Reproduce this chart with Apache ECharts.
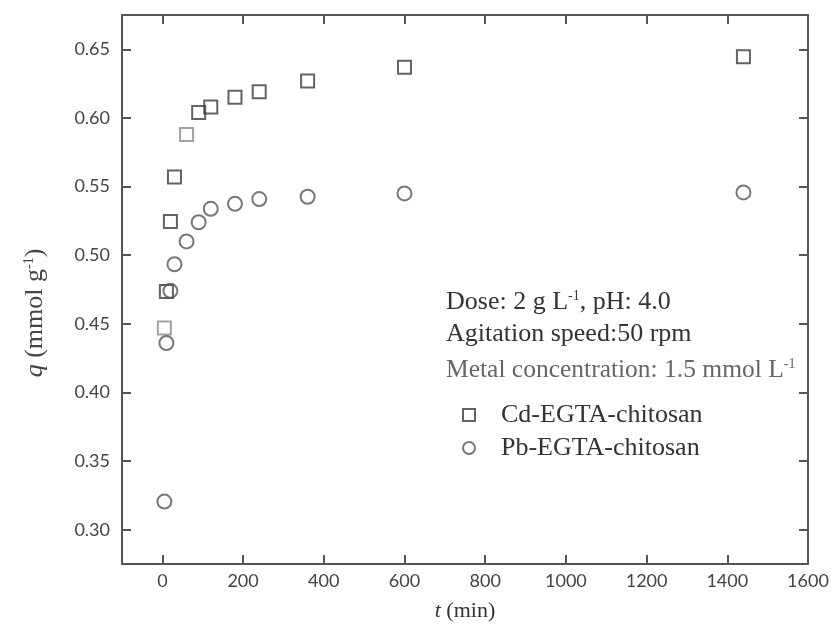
<!DOCTYPE html>
<html>
<head>
<meta charset="utf-8">
<script src="https://cdn.jsdelivr.net/npm/echarts@6/dist/echarts.min.js"></script>
<style>html,body{margin:0;padding:0;background:#fff}#c{width:833px;height:630px}</style>
</head>
<body>
<div id="c"></div>
<script>
const timesCd = [5, 10, 20, 30, 60, 90, 120, 180, 240, 360, 600, 1440];
const cdValues = [0.447, 0.4735, 0.5245, 0.557, 0.588, 0.604, 0.608, 0.615, 0.619, 0.627, 0.637, 0.6445];
const timesPb = [5, 10, 20, 30, 60, 90, 120, 180, 240, 360, 600, 1440];
const pbValues = [0.3205, 0.436, 0.474, 0.4934, 0.510, 0.524, 0.5338, 0.5374, 0.5409, 0.5426, 0.5450, 0.5457];
const xTicks = [0, 200, 400, 600, 800, 1000, 1200, 1400, 1600];
const yTicks = [0.30, 0.35, 0.40, 0.45, 0.50, 0.55, 0.60, 0.65];
const seriesNames = ['Cd-EGTA-chitosan', 'Pb-EGTA-chitosan'];

// styling: which Cd marks look faded in the scanned original
const fadedCd = [0, 4];

const chart = echarts.init(document.getElementById('c'));
const axisColor = '#555';
const labelFont = 'Lato';
const serif = '"Liberation Serif", "Times New Roman", serif';

function xAx(pos, showLabel) {
  return {
    type: 'value', position: pos, min: -100, max: 1600,
    axisLine: {show: true, onZero: false, lineStyle: {color: axisColor, width: 2}},
    axisTick: {show: true, inside: true, length: 9, customValues: xTicks, lineStyle: {color: axisColor, width: 2}},
    axisLabel: {show: showLabel, customValues: xTicks, margin: 8, fontFamily: labelFont, fontSize: 18, color: '#444',
      formatter: v => String(v)},
    splitLine: {show: false}
  };
}
function yAx(pos, showLabel) {
  return {
    type: 'value', position: pos, min: 0.275, max: 0.675,
    axisLine: {show: true, onZero: false, lineStyle: {color: axisColor, width: 2}},
    axisTick: {show: true, inside: true, length: 9, customValues: yTicks, lineStyle: {color: axisColor, width: 2}},
    axisLabel: {show: showLabel, customValues: yTicks, margin: 12, fontFamily: labelFont, fontSize: 18, color: '#444',
      formatter: v => v.toFixed(2)},
    splitLine: {show: false}
  };
}

const supStyle = (c, fs, pb) => ({fontSize: fs, verticalAlign: 'top', padding: [0, 0, pb, 0], fontFamily: serif, fill: c, color: c});

chart.setOption({
  animation: false,
  backgroundColor: '#fff',
  grid: {left: 122, right: 25, top: 15, bottom: 66, containLabel: false},
  xAxis: [xAx('bottom', true), xAx('top', false)],
  yAxis: [yAx('left', true), yAx('right', false)],
  legend: {
    orient: 'vertical', left: 457, top: 397, itemGap: 7,
    itemWidth: 12, itemHeight: 12,
    textStyle: {fontFamily: serif, fontSize: 26, color: '#333', lineHeight: 26, padding: [0, 0, 0, 21]},
    data: [{name: seriesNames[0], icon: 'rect'}, {name: seriesNames[1], icon: 'circle'}]
  },
  series: [
    {
      name: seriesNames[0], type: 'scatter', symbol: 'rect', symbolSize: 13,
      itemStyle: {color: 'rgba(0,0,0,0)', borderColor: '#3c3c3c', borderWidth: 2},
      data: timesCd.map((t, i) => fadedCd.includes(i)
        ? {value: [t, cdValues[i]], itemStyle: {borderColor: '#8a8a8a'}}
        : [t, cdValues[i]])
    },
    {
      name: seriesNames[1], type: 'scatter', symbol: 'circle', symbolSize: 14,
      itemStyle: {color: 'rgba(0,0,0,0)', borderColor: '#555', borderWidth: 2},
      data: timesPb.map((t, i) => [t, pbValues[i]])
    }
  ],
  graphic: [
    {type: 'text', left: 446, top: 289, style: {
      text: 'Dose: 2 g L{sup|-1}, pH: 4.0', font: '26px ' + serif, fill: '#333',
      rich: {sup: supStyle('#333', 14, 12)}}},
    {type: 'text', left: 446, top: 321, style: {
      text: 'Agitation speed:50 rpm', font: '26px ' + serif, fill: '#333'}},
    {type: 'text', left: 446, top: 357, style: {
      text: 'Metal concentration: 1.5 mmol L{sup|-1}', font: '25.5px ' + serif, fill: '#666',
      rich: {sup: supStyle('#666', 14, 12)}}},
    {type: 'text', x: 465, y: 611, style: {
      text: '{i|t} (min)', font: '22px ' + serif, fill: '#333', align: 'center', verticalAlign: 'middle',
      rich: {i: {fontStyle: 'italic', fontSize: 22, fontFamily: serif, fill: '#333'}}}},
    {type: 'text', x: 35, y: 313, rotation: Math.PI / 2, style: {
      text: '{i|q} (mmol g{sup|-1})', font: '26px ' + serif, fill: '#444', align: 'center', verticalAlign: 'middle',
      rich: {i: {fontStyle: 'italic', fontSize: 26, fontFamily: serif, fill: '#444'},
             sup: supStyle('#444', 14, 12)}}}
  ]
});
</script>
</body>
</html>
